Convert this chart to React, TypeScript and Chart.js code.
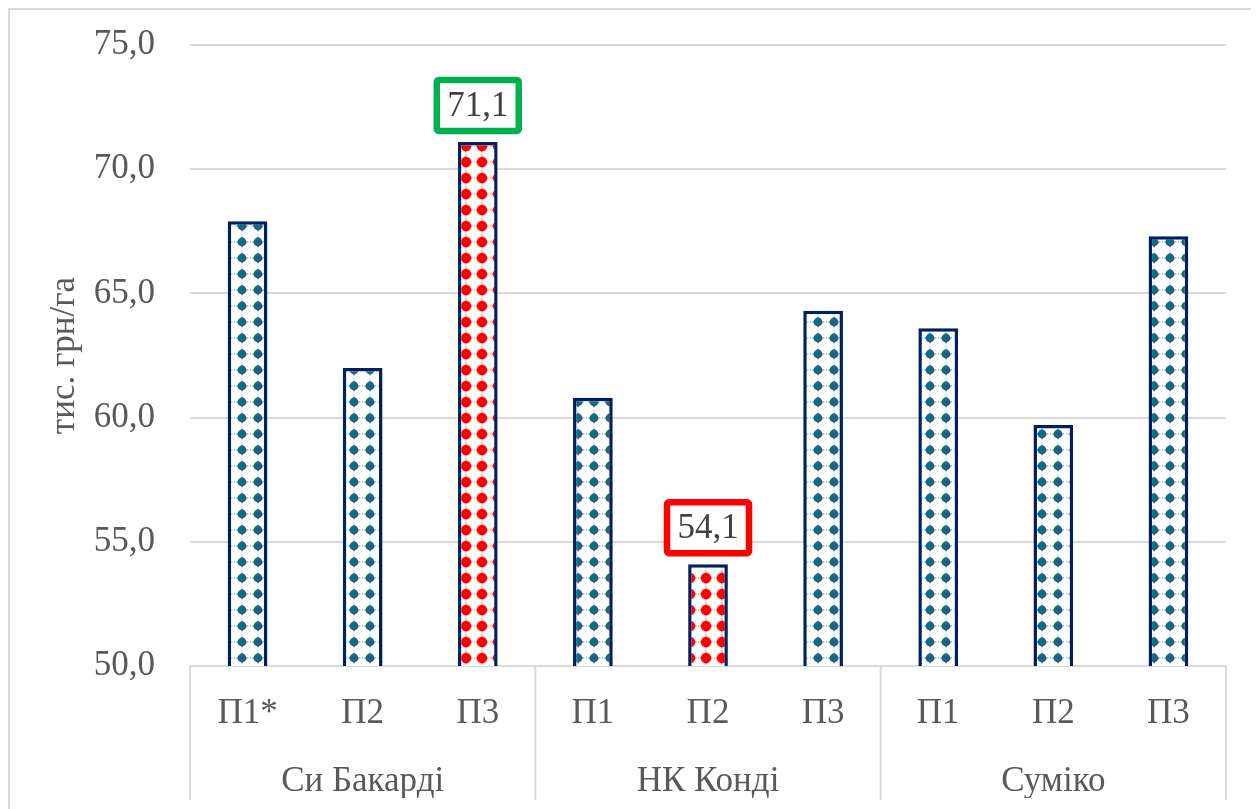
import { useEffect, useRef } from "react";
import { Chart, registerables } from "chart.js";

Chart.register(...registerables);

const groups = ["Си Бакарді", "НК Конді", "Суміко"];
const groupSizes = [3, 3, 3];
const subLabels = ["П1*", "П2", "П3", "П1", "П2", "П3", "П1", "П2", "П3"];
const values = [67.9, 62.0, 71.1, 60.8, 54.1, 64.3, 63.6, 59.7, 67.3];
// "max" / "min" mark the highlighted bars (red fill, boxed label)
const highlight = ["", "", "max", "", "min", "", "", "", ""];
const yMin = 50;
const yMax = 75;
const yStep = 5;

const FONT = "'Liberation Serif', 'Times New Roman', serif";
const TEXT = "#595959";
const GRID = "#d9d9d9";

function makePattern(dot: string, bg: string, r: number): CanvasPattern | string {
  const T = 16;
  const m = T / 2;
  const c = document.createElement("canvas");
  c.width = T;
  c.height = T;
  const g = c.getContext("2d");
  if (!g) return dot;
  g.fillStyle = bg;
  g.fillRect(0, 0, T, T);
  g.fillStyle = dot;
  g.beginPath();
  g.arc(m, m, r, 0, Math.PI * 2);
  g.fill();
  const s = r + 1.8;
  g.beginPath();
  g.moveTo(m, m - s);
  g.lineTo(m + 2, m);
  g.lineTo(m, m + s);
  g.lineTo(m - 2, m);
  g.closePath();
  g.fill();
  g.beginPath();
  g.moveTo(m - s, m);
  g.lineTo(m, m + 2);
  g.lineTo(m + s, m);
  g.lineTo(m, m - 2);
  g.closePath();
  g.fill();
  g.globalAlpha = 0.4;
  g.fillRect(0, m - 0.6, 1.2, 1.2);
  g.fillRect(m - 0.6, 0, 1.2, 1.2);
  g.globalAlpha = 1;
  const p = g.createPattern(c, "repeat");
  return p ?? dot;
}

const decorPlugin = {
  id: "decor",
  afterDraw(chart: any) {
    const { ctx, chartArea } = chart;
    const xs = chart.scales.x;
    const x2 = chart.scales.x2;
    const half = (xs.getPixelForValue(1) - xs.getPixelForValue(0)) / 2;
    ctx.save();
    ctx.strokeStyle = GRID;
    ctx.lineWidth = 2;
    let idx = 0;
    const bounds: number[] = [xs.getPixelForValue(0) - half];
    groupSizes.forEach((n) => {
      idx += n;
      bounds.push(xs.getPixelForValue(idx - 1) + half);
    });
    bounds.forEach((px) => {
      ctx.beginPath();
      ctx.moveTo(px, chartArea.bottom);
      ctx.lineTo(px, x2.bottom + 2);
      ctx.stroke();
    });

    const meta = chart.getDatasetMeta(0);
    meta.data.forEach((bar: any, i: number) => {
      const h = highlight[i];
      if (!h) return;
      const color = h === "max" ? "#00b050" : "#ff0000";
      const w = 82;
      const hh = 51;
      const bottom = bar.y - 11;
      const left = bar.x - w / 2;
      const top = bottom - hh;
      ctx.lineWidth = 6.5;
      ctx.strokeStyle = color;
      ctx.fillStyle = "#ffffff";
      ctx.beginPath();
      if (ctx.roundRect) ctx.roundRect(left, top, w, hh, 2);
      else ctx.rect(left, top, w, hh);
      ctx.fill();
      ctx.stroke();
      ctx.fillStyle = "#404040";
      ctx.font = `35px ${FONT}`;
      ctx.textAlign = "center";
      ctx.textBaseline = "middle";
      ctx.fillText(values[i].toFixed(1).replace(".", ","), bar.x, top + hh / 2 + 1);
    });
    ctx.restore();
  },
};

export default function App() {
  const ref = useRef<HTMLCanvasElement>(null);

  useEffect(() => {
    const canvas = ref.current;
    if (!canvas) return;
    const ctx = canvas.getContext("2d");
    if (!ctx) return;
    const teal = makePattern("#1b6688", "#ffffff", 4.4);
    const red = makePattern("#ff0000", "#ffffff", 5.2);
    const chart = new Chart(canvas, {
      type: "bar",
      data: {
        labels: subLabels,
        datasets: [
          {
            data: values,
            backgroundColor: highlight.map((h) => (h ? red : teal)) as any,
            borderColor: "#002060",
            borderWidth: 3.5,
            borderSkipped: false,
            barPercentage: 0.345,
            categoryPercentage: 1,
          },
        ],
      },
      options: {
        animation: false,
        responsive: false,
        events: [],
        layout: { padding: { left: 0, right: 28, top: 35, bottom: 40 } },
        plugins: { legend: { display: false }, tooltip: { enabled: false } },
        scales: {
          x: {
            type: "category",
            position: "bottom",
            weight: 0,
            grid: { display: false },
            border: { display: false },
            ticks: {
              color: TEXT,
              font: { family: FONT, size: 35 },
              padding: 19,
              maxRotation: 0,
              autoSkip: false,
            },
            afterFit: (s: any) => {
              s.height = 65;
              s.paddingLeft = 0;
              s.paddingRight = 0;
            },
          },
          x2: {
            type: "category",
            position: "bottom",
            weight: 1,
            labels: groups,
            offset: true,
            grid: { display: false },
            border: { display: false },
            ticks: {
              color: TEXT,
              font: { family: FONT, size: 35 },
              padding: 22,
              maxRotation: 0,
              autoSkip: false,
            },
            afterFit: (s: any) => {
              s.height = 67;
              s.paddingLeft = 0;
              s.paddingRight = 0;
            },
          },
          y: {
            min: yMin,
            max: yMax,
            grid: { color: GRID, lineWidth: 2, drawTicks: false },
            border: { display: false },
            ticks: {
              stepSize: yStep,
              color: TEXT,
              font: { family: FONT, size: 35 },
              padding: 35,
              callback: (v: any) => Number(v).toFixed(1).replace(".", ","),
            },
            title: {
              display: true,
              text: "тис. грн/га",
              color: TEXT,
              font: { family: FONT, size: 35 },
              padding: { top: 34, bottom: 12 },
            },
            afterFit: (s: any) => {
              s.width = 180;
              s.paddingTop = 0;
              s.paddingBottom = 0;
            },
          },
        },
      },
      plugins: [decorPlugin],
    });
    return () => chart.destroy();
  }, []);

  return (
    <div
      style={{
        width: 1244,
        height: 828,
        border: `2px solid ${GRID}`,
        background: "#ffffff",
      }}
    >
      <canvas ref={ref} width={1244} height={828} style={{ display: "block" }} />
    </div>
  );
}
